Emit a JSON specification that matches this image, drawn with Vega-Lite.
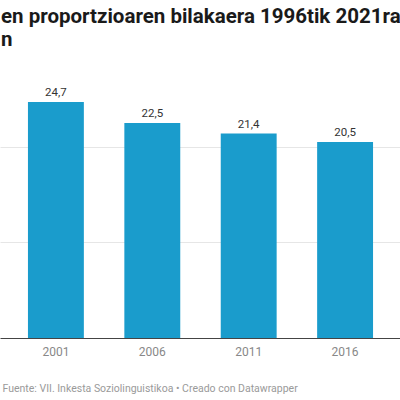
{
  "$schema": "https://vega.github.io/schema/vega-lite/v6.json",
  "autosize": {"type": "none"},
  "padding": {"left": 0, "top": 80, "right": 0, "bottom": 62},
  "width": 401,
  "height": 258,
  "title": {
    "text": ["en proportzioaren bilakaera 1996tik 2021ra", "n"],
    "anchor": "start",
    "frame": "group",
    "offset": 30,
    "dx": 1,
    "font": "Roboto",
    "fontSize": 20.5,
    "fontWeight": "bold",
    "color": "#1a1a1a",
    "lineHeight": 23
  },
  "config": {
    "view": {"stroke": null},
    "font": "Roboto",
    "locale": {
      "number": {
        "decimal": ",",
        "thousands": ".",
        "grouping": [3],
        "currency": ["", " €"]
      }
    }
  },
  "data": {
    "values": [
      {"urtea": "2001", "balioa": 24.7},
      {"urtea": "2006", "balioa": 22.5},
      {"urtea": "2011", "balioa": 21.4},
      {"urtea": "2016", "balioa": 20.5}
    ]
  },
  "encoding": {
    "x": {
      "field": "urtea",
      "type": "nominal",
      "scale": {"paddingInner": 0.42, "paddingOuter": 0.29},
      "axis": {
        "title": "Fuente: VII. Inkesta Soziolinguistikoa • Creado con Datawrapper",
        "titleAnchor": "start",
        "titleAlign": "left",
        "titleX": 2,
        "titleY": 45,
        "titleFontSize": 10.5,
        "titleFontWeight": "normal",
        "titleColor": "#9a9a9a",
        "labelAngle": 0,
        "labelFontSize": 12,
        "labelColor": "#888888",
        "labelPadding": 8,
        "ticks": false,
        "domainColor": "#444444",
        "domainWidth": 1
      }
    },
    "y": {
      "field": "balioa",
      "type": "quantitative",
      "scale": {"domain": [0, 27], "nice": false},
      "axis": {
        "title": null,
        "labels": false,
        "ticks": false,
        "domain": false,
        "values": [10, 20],
        "gridColor": "#e6e6e6",
        "gridWidth": 1
      }
    }
  },
  "layer": [
    {
      "mark": {"type": "bar", "color": "#1a9ccc"}
    },
    {
      "mark": {
        "type": "text",
        "baseline": "bottom",
        "dy": -4,
        "fontSize": 11.5,
        "color": "#333333"
      },
      "encoding": {
        "text": {"field": "balioa", "type": "quantitative", "format": ".1f"}
      }
    }
  ]
}
